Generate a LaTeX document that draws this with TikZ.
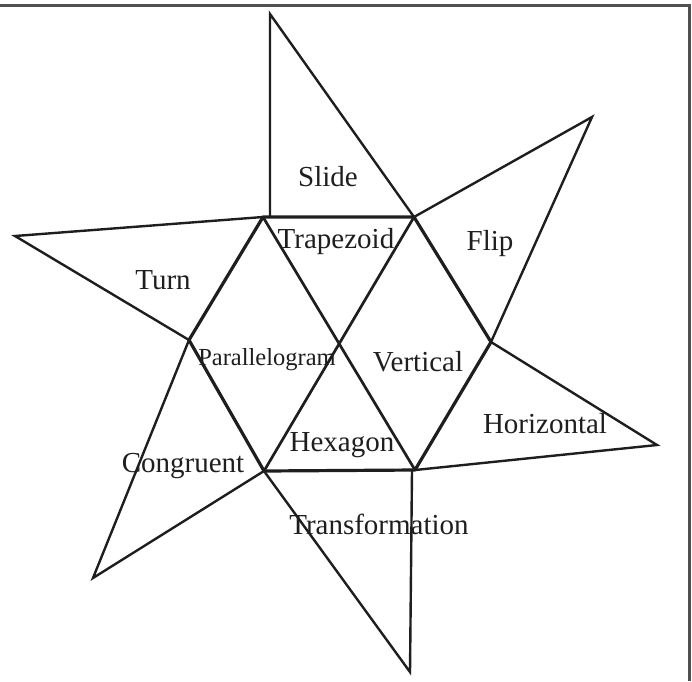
\documentclass[tikz,border=0pt]{standalone}
\usepackage{fontspec}
\setmainfont{Liberation Serif}
\definecolor{ink}{HTML}{1E1E1E}
\definecolor{framecol}{HTML}{505050}

\begin{document}
\begin{tikzpicture}[x=1pt,y=-1pt,
  hexedge/.style={draw=ink,line width=3.2pt,line join=round},
  diagedge/.style={draw=ink,line width=2.7pt},
  armedge/.style={draw=ink,line width=2.4pt,line join=miter},
  lab/.style={anchor=base,inner sep=0pt,text=ink,font=\fontsize{29}{31}\selectfont},
  smalllab/.style={lab,font=\fontsize{24.5}{26}\selectfont}
]
\useasboundingbox (0,0) rectangle (692,681);
\draw[framecol,line width=2.5pt] (0,5.5) -- (689.5,5.5) -- (689.5,681);
% hexagon corners
\coordinate (tl) at (263,217);
\coordinate (tr) at (414,217);
\coordinate (r)  at (491,342);
\coordinate (br) at (415,470);
\coordinate (bl) at (264,471);
\coordinate (l)  at (189,340);
% star tips
\coordinate (slidetip)  at (270,14);
\coordinate (slidefoot) at (270,217);
\coordinate (fliptip)   at (592,117);
\coordinate (horiztip)  at (657,445);
\coordinate (transtip)  at (410,672);
\coordinate (transfoot) at (412,470);
\coordinate (congtip)   at (93,578);
\coordinate (turntip)   at (15,236);
% arms
\draw[armedge] (slidefoot) -- (slidetip) -- (tr);
\draw[armedge] (tr) -- (fliptip) -- (r);
\draw[armedge] (r) -- (horiztip) -- (br);
\draw[armedge] (bl) -- (transtip) -- (transfoot);
\draw[armedge] (bl) -- (congtip) -- (l);
\draw[armedge] (l) -- (turntip) -- (tl);
% hexagon
\draw[diagedge] (tl) -- (br);
\draw[diagedge] (tr) -- (bl);
\draw[hexedge] (tl) -- (tr) -- (r) -- (br) -- (bl) -- (l) -- cycle;
% labels
\node[lab] (slide)  at (328,186.8) {Slide};
\node[lab] (trap)   at (336,248.3) {Trapezoid};
\node[lab] (flip)   at (490,250.7) {Flip};
\node[lab] (turn)   at (163,289.6) {Turn};
\node[smalllab] (para) at (267,365) {Parallelogram};
\node[lab] (vert)   at (418,371.2) {Vertical};
\node[lab] (horiz)  at (545,433) {Horizontal};
\node[lab] (hexa)   at (342,451.7) {Hexagon};
\node[lab] (cong)   at (183,472.7) {Congruent};
\node[lab] (trans)  at (379,534.5) {Transformation};
\end{tikzpicture}
\end{document}
